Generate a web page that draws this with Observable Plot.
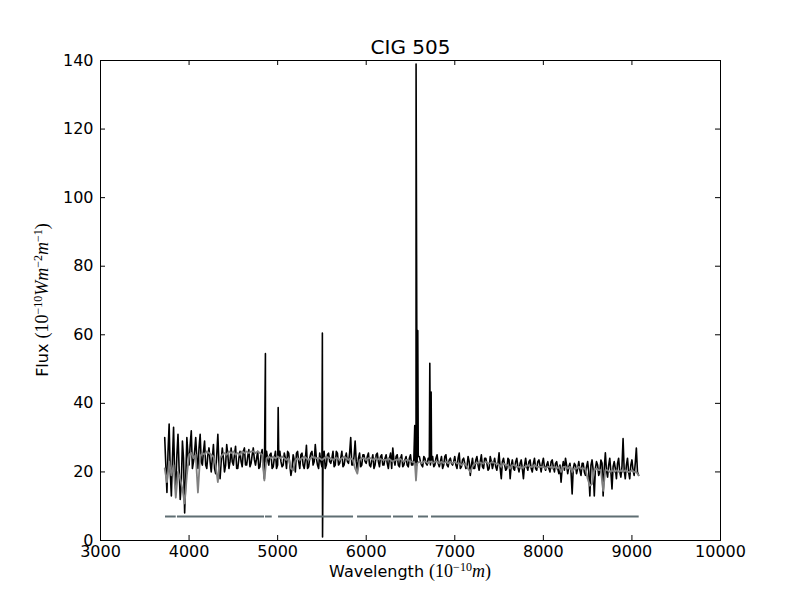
<!DOCTYPE html>
<html><head><meta charset="utf-8">
<script src="https://cdn.jsdelivr.net/npm/d3@7"></script>
<script src="https://cdn.jsdelivr.net/npm/@observablehq/plot@0.6"></script>
<style>body{margin:0;background:#fff;} svg{display:block;}</style>
</head><body><div id="chart"></div>
<script>
const title = "CIG 505";
const xTicks = [3000, 4000, 5000, 6000, 7000, 8000, 9000, 10000];
const yTicks = [0, 20, 40, 60, 80, 100, 120, 140];

// observed spectrum sampled every 25 Å starting at 3725 Å (10 values per row = 250 Å)
const gridStart = 3725, gridStep = 25;
const obsFlux = [
  30,14,34,13,33,15,31,12,29,8,
  30,22,32,23,30,21,31,22,29,21,
  27,20,28,19.5,31,18,27,20,28,21,
  27,22,27.5,21,26,21.5,27,22,26.5,22.5,
  27,22,26,21.5,26.5,18,26,22,25.5,21.5,
  26,22,26,21.5,25.5,21,25.5,19,25,20,
  26,21,25.5,21,27.8,21.5,25.5,22,28,22,
  25.5,21.5,26,22,25.5,22.5,26,22,25.5,22.5,
  26,22,25.5,22.5,30,22,29,20.5,25.5,22,
  25,22.5,25.5,21.5,25,22,25.5,21.5,25,22,
  25,21,25.5,27,22,25,21.5,25,22,24.5,
  21.5,25,22,24.5,22,24.5,22,24.5,22.5,24,
  22,24.5,22,25,21.5,24.5,22,25,21.5,24,
  22,24.5,21,25.5,21.5,24,21,24.5,19,24,
  21,24.5,20.5,25,21,24,20.5,24.5,21,24,
  20.5,25.6,18,24,20.5,24,18,23.5,20.5,24,
  20,23.5,18,24,20.5,23.5,20,24,20.5,23.5,
  20,24,20.5,23,20,23.5,20,23,19.5,17,
  23,24,19.5,22.5,13.6,22.5,19.5,23,19,22.5,
  19,23,13,23.5,13,23,19,23.5,13,25.6,
  18.5,24,15,23,18,24,18.5,29.7,18,24,
  18,23.5,19,27,19
];
// observed spectrum at the half-step wavelengths (3737.5 Å + 25 Å * i)
const obsFluxHalf = [
  22,26,20,24,19,25,21,17,24,18,
  25,28,21,26,24,27,23,26,22,25,
  23,24,21,25,22,23,24,22,25,23,
  23,25,21,24,23,26,22,24.5,21.5,25,
  23.5,24,21,25,22,23,23.5,25,21,24,
  21,24.5,23,22,24,26,22,21,23.5,25.5,
  23,25,22,23.5,21,24,26,23,24,21,
  23,24.5,21,25,23,24,21.5,26,22,24,
  21.5,24,23,25.5,22,24.5,23,24,21.5,25,
  23,24.5,22,23.5,21,25,23,24.5,22,24,
  22.5,24,21,23.5,24.5,22,24,21.5,23.5,22,
  24,22,23.5,21.5,24.5,23,21.5,24,22,23.5,
  23.5,21.5,24,22.5,23,21,24.5,22,23.5,22.5,
  23,22,24,21,23.5,22.5,21.5,23,22,21,
  23.5,22,23,21.5,24,22.5,21,23,22.5,21.5,
  22.5,21,23,22,21,23.5,22,21,23,21.5,
  22.5,21,22,21.5,23,21,22.5,21,23,22,
  22.5,21.5,22,21,23,21.5,22.5,21,22,21,
  20.5,22,21.5,20,21,22,21,20.5,22.5,20,
  21.5,20,22,20.5,21,22,20,22.5,21,20.5,
  22,20,21.5,21,22.5,20,21.5,20.5,22,20,
  22,20.5,22.5,20
];
// emission lines and the artefact near 5500 Å
const lineWave = [4862, 5006, 5505, 5507, 6548, 6563, 6582, 6718, 6733];
const lineFlux = [54.5, 38.8, 60.5, 1, 33.5, 139, 61.2, 51.7, 43.3];

// synthetic (model) spectrum on the 25 Å grid
const modelFlux = [
  21,17,23,19,22,12.5,20,18,15,10.8,
  19,25,25.5,24,25,14,24.5,25.5,25,26,
  25.5,25,24.5,22,17,24,25,25.5,25,26,
  25.5,26,25,25.5,25,26,25.5,26,25.5,26,
  26,25.5,26,25.5,25,17.5,24,24.5,24,24.5,
  24,24.5,24,24.5,24,23.5,24,21,20.5,23.5,
  24,23.5,24,24.5,24,23.5,24,24.5,24,24,
  24,23.5,24,24.5,24,24,23.5,24,24,23.5,
  24,24.5,24,23.5,24,23.5,21,19.5,23.5,24,
  24,23.5,24,24,23.5,24,23.5,24,23.5,23.5,
  23.5,24,23.5,23,23.5,23.5,24,23.5,23,23.5,
  23.5,23,23,22.5,22.5,23,22.5,23,23,22.5,
  23,22.5,23,23,22.5,23,22.5,23,22.5,23,
  22.5,23,22.5,22.5,22,22.5,22,21,20,21.5,
  22.5,22.5,23,22.5,22.5,23,22.5,22.5,23,22.5,
  22.5,22,21.5,22.5,22,22,21,22,22,21.5,
  21.5,21,21.5,21.5,22,21.5,21.5,22,21.5,21.5,
  21.5,21.5,21,21.5,21.5,21,21.5,21,21.5,20,
  21.5,21.5,21,21.5,20,21,21,21.5,21,21,
  21,18,16,16.5,20.5,21,20.5,20.5,14.5,20.5,
  20.5,20,20.5,20,20.5,20,20.5,20,20.5,20,
  20,20.5,20,20,19
];
const modelLineWave = [6562];
const modelLineFlux = [17.5];

// fitted wavelength windows (mask), drawn at a constant level
const maskStart = [3734, 3869, 4863, 5010, 5902, 6308, 6590, 6737];
const maskEnd   = [3855, 4852, 4939, 5857, 6286, 6534, 6703, 9082];
const maskLevel = 7;

const obs = obsFlux.map((f, i) => ({w: gridStart + i * gridStep, f}))
  .concat(obsFluxHalf.map((f, i) => ({w: gridStart + gridStep / 2 + i * gridStep, f})))
  .concat(lineWave.map((w, i) => ({w, f: lineFlux[i]})))
  .sort((a, b) => a.w - b.w);
const model = modelFlux.map((f, i) => ({w: gridStart + i * gridStep, f}))
  .concat(modelLineWave.map((w, i) => ({w, f: modelLineFlux[i]})))
  .sort((a, b) => a.w - b.w);
const masks = maskStart.map((a, i) => ({a, b: maskEnd[i], y: maskLevel}));

const W = 800, H = 600, mL = 100, mR = 80, mT = 60, mB = 60;
const fw = W - mL - mR, fh = H - mT - mB, tick = 5;

const plot = Plot.plot({
  width: W, height: H, marginLeft: mL, marginRight: mR, marginTop: mT, marginBottom: mB,
  style: {fontFamily: "'DejaVu Sans', sans-serif", fontSize: "16px", background: "white", color: "black"},
  x: {domain: [3000, 10000]},
  y: {domain: [0, 140]},
  marks: [
    Plot.line(obs, {x: "w", y: "f", stroke: "black", strokeWidth: 1.6}),
    Plot.line(model, {x: "w", y: "f", stroke: "#808080", strokeWidth: 1.8}),
    Plot.ruleY(masks, {y: "y", x1: "a", x2: "b", stroke: "#5f6e73", strokeWidth: 2}),
    Plot.frame({stroke: "black", strokeWidth: 1}),
    Plot.tickX(xTicks, {x: d => d, insetTop: fh - tick, stroke: "black"}),
    Plot.tickX(xTicks, {x: d => d, insetBottom: fh - tick, stroke: "black"}),
    Plot.tickY(yTicks, {y: d => d, insetRight: fw - tick, stroke: "black"}),
    Plot.tickY(yTicks, {y: d => d, insetLeft: fw - tick, stroke: "black"}),
    Plot.axisX({ticks: xTicks, tickSize: 0, tickPadding: 5, tickFormat: d => String(d), label: null, fontSize: 16}),
    Plot.axisY({ticks: yTicks, tickSize: 0, tickPadding: 7, tickFormat: d => String(d), label: null, fontSize: 16}),
    Plot.text([title], {frameAnchor: "top", lineAnchor: "bottom", dy: -7, fontSize: 20, text: d => d})
  ]
});
document.getElementById("chart").appendChild(plot);

// axis labels with math-style parts
const svg = d3.select(plot);
const serif = "'Liberation Serif', 'DejaVu Serif', serif";
function mathLabel(parts, transform) {
  const t = svg.append("text").attr("transform", transform)
    .attr("text-anchor", "middle").attr("font-size", 16).attr("fill", "black")
    .attr("font-family", "'DejaVu Sans', sans-serif");
  let raised = 0;
  for (const p of parts) {
    const s = t.append("tspan").text(p.t);
    if (p.serif) s.attr("font-family", serif).attr("font-size", 18);
    if (p.it) s.attr("font-style", "italic");
    const want = p.sup ? -6 : 0;
    if (want !== raised) { s.attr("dy", want - raised); raised = want; }
    if (p.sup) s.attr("font-size", 12).attr("font-family", serif);
  }
  return t;
}
mathLabel([
  {t: "Wavelength "}, {t: "(10", serif: true}, {t: "\u221210", sup: true},
  {t: "m", serif: true, it: true}, {t: ")", serif: true}
], `translate(${mL + fw / 2},577)`);
mathLabel([
  {t: "Flux "}, {t: "(10", serif: true}, {t: "\u221210", sup: true},
  {t: "Wm", serif: true, it: true}, {t: "\u22122", sup: true},
  {t: "m", serif: true, it: true}, {t: "\u22121", sup: true}, {t: ")", serif: true}
], `translate(48,${mT + fh / 2}) rotate(-90)`);
</script>
</body></html>
